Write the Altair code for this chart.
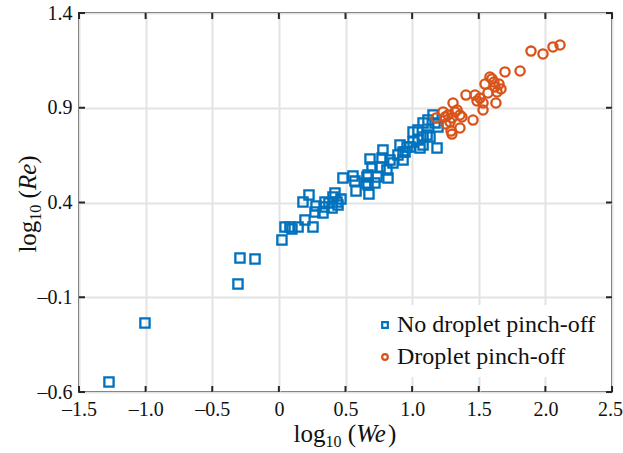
import altair as alt
import pandas as pd

blue_x = [-1.275, -1.005, -0.307, -0.292, -0.179, 0.023, 0.046, 0.083, 0.098, 0.144, 0.196, 0.256,
          0.181, 0.226, 0.271, 0.279, 0.331, 0.339, 0.346, 0.376, 0.399, 0.406, 0.421, 0.444, 0.466,
          0.436, 0.481, 0.556, 0.571, 0.579, 0.661, 0.669, 0.676, 0.654, 0.669, 0.721, 0.736, 0.699,
          0.684, 0.759, 0.774, 0.781, 0.819, 0.811, 0.834, 0.856, 0.909, 0.894, 0.932, 0.947, 0.984,
          1.007, 1.044, 1.082, 1.082, 1.059, 1.112, 1.007, 1.044, 1.082, 1.119, 1.157, 1.172, 1.194,
          1.187, 1.134, 0.962, 0.932]
blue_y = [-0.547, -0.236, -0.030, 0.107, 0.102, 0.202, 0.271, 0.271, 0.260, 0.271, 0.308, 0.271,
          0.403, 0.440, 0.350, 0.382, 0.345, 0.376, 0.403, 0.397, 0.371, 0.429, 0.450, 0.387, 0.418,
          0.403, 0.529, 0.540, 0.513, 0.461, 0.535, 0.492, 0.445, 0.503, 0.545, 0.503, 0.535, 0.587,
          0.630, 0.587, 0.635, 0.677, 0.529, 0.572, 0.624, 0.608, 0.703, 0.651, 0.624, 0.666, 0.693,
          0.719, 0.730, 0.746, 0.703, 0.688, 0.756, 0.772, 0.783, 0.820, 0.835, 0.862, 0.820, 0.798,
          0.688, 0.746, 0.693, 0.666]

orange_x = [1.179, 1.232, 1.247, 1.269, 1.284, 1.299, 1.307, 1.322, 1.337, 1.359, 1.374, 1.254,
            1.292, 1.299, 1.359, 1.404, 1.457, 1.472, 1.487, 1.509, 1.532, 1.532, 1.569, 1.547,
            1.584, 1.599, 1.614, 1.622, 1.637, 1.629, 1.652, 1.667, 1.697, 1.810, 1.892, 1.982,
            2.057, 2.110]
orange_y = [0.846, 0.878, 0.851, 0.862, 0.825, 0.846, 0.925, 0.878, 0.888, 0.862, 0.851, 0.814,
            0.777, 0.761, 0.793, 0.967, 0.835, 0.967, 0.936, 0.951, 0.925, 0.888, 0.978, 1.025,
            1.062, 1.052, 1.036, 1.010, 0.983, 0.925, 1.025, 0.999, 1.089, 1.094, 1.199, 1.184,
            1.221, 1.231]

x_ticks = [-1.5, -1.0, -0.5, 0.0, 0.5, 1.0, 1.5, 2.0, 2.5]
y_ticks = [-0.6, -0.1, 0.4, 0.9, 1.4]
labels = ["No droplet pinch-off", "Droplet pinch-off"]
colors = ["#0072BD", "#D95319"]
x_title = ["log", "10", "(", "We", ")"]
y_title = ["log", "10", "(", "Re", ")"]

df = pd.DataFrame({
    "x": blue_x + orange_x,
    "y": blue_y + orange_y,
    "group": [labels[0]] * len(blue_x) + [labels[1]] * len(orange_x),
})
xt = pd.DataFrame({"v": x_ticks})
yt = pd.DataFrame({"v": y_ticks})

W, H = 533, 379
FONT = "Liberation Serif"
INK = "#262626"
TF, SF = 25, 16  # title font, subscript font
xs = alt.Scale(domain=[-1.5, 2.5], nice=False, zero=False)
ys = alt.Scale(domain=[-0.6, 1.4], nice=False, zero=False)

lab = ("datum.value == 0 ? '0' : replace(replace(format(datum.value, '.1f'), '-', '\u2013'), '\u2212', '\u2013')")

leg = alt.Legend(title=None, orient="none", legendX=286, legendY=292,
                 fillColor="white", padding=8, symbolSize=32,
                 symbolStrokeWidth=2.2, labelFontSize=24, labelFont=FONT, labelColor="#111111",
                 labelOffset=0, rowPadding=8, labelLimit=400)

points = alt.Chart(df).mark_point(filled=False, strokeWidth=2.3, size=85, opacity=1).encode(
    x=alt.X("x:Q", scale=xs, axis=alt.Axis(values=x_ticks, labelExpr=lab, title=None, labelFlush=False,
                                          labelOverlap=False, ticks=False, domain=False, labelPadding=7,
                                          labelOffset={"condition": {"test": "datum.value >= 2.5", "value": -2},
                                                       "value": 0})),
    y=alt.Y("y:Q", scale=ys, axis=alt.Axis(values=y_ticks, labelExpr=lab, title=None, labelFlush=False,
                                          labelOverlap=False, ticks=False, domain=False, labelPadding=7)),
    color=alt.Color("group:N", scale=alt.Scale(domain=labels, range=colors), legend=leg),
    shape=alt.Shape("group:N", scale=alt.Scale(domain=labels, range=["square", "circle"]), legend=leg),
)

tk = dict(color=INK, strokeWidth=2)
bot = alt.Chart(xt).mark_rule(**tk).encode(x=alt.X("v:Q", scale=xs), y=alt.value(H), y2=alt.value(H - 6))
top = alt.Chart(xt).mark_rule(**tk).encode(x=alt.X("v:Q", scale=xs), y=alt.value(0), y2=alt.value(6))
left = alt.Chart(yt).mark_rule(**tk).encode(y=alt.Y("v:Q", scale=ys), x=alt.value(0), x2=alt.value(6))
right = alt.Chart(yt).mark_rule(**tk).encode(y=alt.Y("v:Q", scale=ys), x=alt.value(W), x2=alt.value(W - 6))

# composed axis titles (subscript + italic pieces)
def piece(text, size, italic, x, y, angle=0):
    m = alt.Chart(pd.DataFrame({"t": [text]})).mark_text(
        font=FONT, fontSize=size, fontStyle="italic" if italic else "normal",
        align="left", baseline="alphabetic", color="#111111", angle=angle)
    return m.encode(text="t:N", x=alt.value(x), y=alt.value(y))

# advance widths (em) incl. the space before "("
widths = [1.278 * TF, 1.0 * SF + 0.25 * TF, 0.333 * TF, 1.277 * TF, 0.333 * TF]
tot = sum(widths)
cx = 266 - tot / 2
xpieces = []
for i, t in enumerate(x_title):
    sub = (i == 1)
    xpieces.append(piece(t, SF if sub else TF, i == 3, cx, 429 + (5 if sub else 0)))
    cx += widths[i]

ywidths = [1.278 * TF, 1.0 * SF + 0.25 * TF, 0.333 * TF, 1.055 * TF, 0.333 * TF]
ytot = sum(ywidths)
cy = 191 + ytot / 2
ypieces = []
for i, t in enumerate(y_title):
    sub = (i == 1)
    ypieces.append(piece(t, SF if sub else TF, i == 3, -43 + (5 if sub else 0), cy, angle=270))
    cy -= ywidths[i]

chart = alt.layer(points, bot, top, left, right, *xpieces, *ypieces).properties(
    width=W, height=H, background="white",
    autosize=alt.AutoSizeParams(type="none"),
    padding={"left": 79, "top": 13, "right": 11, "bottom": 61},
).configure_view(stroke=INK, strokeWidth=2).configure_axis(
    gridColor="#e3e3e3", gridWidth=2, gridOpacity=1,
    labelFont=FONT, labelFontSize=20, labelColor="#111111",
)

chart.save("out.html", embed_options={"renderer": "svg", "actions": False})
